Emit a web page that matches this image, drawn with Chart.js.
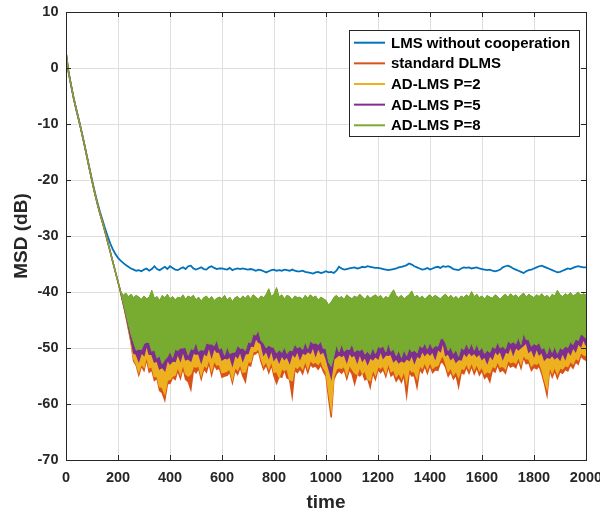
<!DOCTYPE html>
<html>
<head>
<meta charset="utf-8">
<script src="https://cdn.jsdelivr.net/npm/chart.js@4.4.1/dist/chart.umd.min.js"></script>
<style>
  html, body { margin: 0; padding: 0; background: #fff; }
  #wrap { width: 600px; height: 514px; }
</style>
</head>
<body>
<div id="wrap"><canvas id="msd"></canvas></div>
<script>
// ─── DATA (MSD in dB, sampled every 10 time steps) ──────────────
const time = Array.from({ length: 201 }, (_, i) => i * 10);

const lmsNoCoop = [
  2.7, -0.8, -3.2, -5.5, -7.5, -9.4, -11.4, -13.5, -15.7, -17.9,
  -20.0, -22.0, -23.9, -25.6, -27.1, -28.6, -30.0, -31.3, -32.4, -33.2,
  -33.9, -34.4, -34.8, -35.2, -35.5, -35.8, -36.0, -36.2, -36.1, -36.3,
  -36.0, -35.8, -36.2, -35.9, -35.4, -35.9, -36.1, -35.8, -35.5, -35.9,
  -35.4, -35.7, -36.0, -36.1, -35.8, -35.6, -35.9, -35.4, -35.3, -35.8,
  -36.0, -35.8, -35.6, -35.9, -36.0, -35.6, -35.4, -35.7, -35.9, -35.8,
  -35.8, -35.9, -36.0, -35.7, -36.1, -35.9, -35.8, -35.9, -35.8, -35.9,
  -36.0, -35.9, -36.0, -36.2, -36.0, -36.1, -36.3, -36.5, -36.3, -36.1,
  -36.0, -36.2, -36.1, -36.2, -36.0, -36.1, -36.2, -36.0, -36.2, -36.3,
  -36.3, -36.2, -36.4, -36.5, -36.6, -36.7, -36.5, -36.4, -36.6, -36.5,
  -36.3, -36.5, -36.4, -36.6, -36.2, -35.5, -35.8, -36.0, -35.9, -35.8,
  -35.7, -35.6, -35.8, -35.7, -35.5, -35.6, -35.4, -35.5, -35.6, -35.7,
  -35.7, -35.8, -35.9, -36.0, -36.1, -36.0, -35.9, -35.8, -35.6, -35.5,
  -35.4, -35.2, -34.9, -35.1, -35.4, -35.6, -35.8, -36.0, -35.9, -35.7,
  -36.0, -35.8, -35.6, -35.5, -35.7, -35.4, -35.5, -35.4, -35.6, -35.9,
  -36.0, -36.1, -35.8, -35.6, -35.7, -35.6, -35.8, -35.7, -35.6, -35.8,
  -35.9, -36.0, -36.1, -36.0, -36.2, -36.3, -36.2, -36.0, -35.6, -35.4,
  -35.3, -35.5, -35.8, -36.0, -36.2, -36.4, -36.6, -36.3, -36.1, -36.0,
  -35.8, -35.6, -35.4, -35.3, -35.5, -35.7, -35.9, -36.1, -36.3, -36.5,
  -36.4, -36.2, -36.0, -35.8, -35.9, -35.7, -35.5, -35.4, -35.5, -35.6,
  -35.6
];

const standardDlms = [
  2.7, -0.8, -3.2, -5.5, -7.5, -9.4, -11.4, -13.5, -15.7, -17.9,
  -20.1, -22.2, -24.1, -25.9, -27.5, -29.2, -31.0, -32.8, -34.6, -36.4,
  -38.2, -40.0, -42.1, -44.2, -46.6, -49.0, -52.3, -53.1, -54.8, -53.2,
  -54.0, -52.0, -54.3, -53.9, -55.8, -55.4, -57.6, -58.0, -59.3, -56.4,
  -56.3, -55.2, -55.6, -54.0, -55.4, -53.5, -55.6, -56.0, -57.4, -53.9,
  -54.4, -53.6, -55.5, -53.7, -54.3, -52.6, -54.8, -53.0, -53.8, -53.6,
  -55.2, -55.0, -54.9, -54.3, -56.2, -54.0, -54.7, -53.4, -55.0, -56.0,
  -53.0, -53.2, -51.2, -51.0, -50.5, -52.4, -53.8, -53.0, -54.4, -53.0,
  -55.0, -56.3, -55.0, -55.2, -53.9, -55.3, -55.6, -58.6, -53.9, -54.4,
  -53.7, -54.6, -53.0, -54.4, -52.9, -53.4, -53.2, -53.8, -53.0, -54.2,
  -55.0, -58.9, -62.4, -55.6, -54.6, -54.1, -54.5, -53.9, -55.5, -53.8,
  -54.6, -56.4, -54.6, -55.0, -54.4, -55.7, -55.4, -57.0, -54.4, -55.6,
  -53.8, -54.4, -53.8, -55.1, -53.3, -55.0, -54.6, -55.9, -55.2, -56.1,
  -54.8, -58.5, -54.3, -55.0, -54.9, -57.0, -53.8, -54.4, -53.2, -54.5,
  -53.1, -54.4, -53.9, -54.0, -52.6, -52.6, -53.4, -55.0, -54.2, -55.5,
  -54.8, -56.9, -54.3, -54.6, -53.4, -54.5, -53.2, -54.6, -53.5, -54.8,
  -54.0, -55.4, -54.9, -56.0, -53.9, -54.3, -53.0, -54.2, -53.9, -54.5,
  -52.8, -53.4, -53.1, -53.5, -52.2, -53.6, -51.6, -52.8, -52.6, -54.0,
  -53.4, -53.7, -53.2, -54.6, -56.3, -58.4, -53.9, -55.2, -54.0, -55.4,
  -54.2, -54.5, -53.8, -54.1, -53.0, -53.6, -52.5, -52.9, -51.4, -51.9,
  -52.2
];

const adLmsP2 = [
  2.7, -0.8, -3.2, -5.5, -7.5, -9.4, -11.4, -13.5, -15.7, -17.9,
  -20.1, -22.2, -24.1, -25.9, -27.5, -29.2, -31.0, -32.8, -34.6, -36.4,
  -38.2, -40.0, -42.0, -44.0, -46.4, -48.8, -51.9, -52.8, -54.2, -52.8,
  -53.4, -51.3, -53.5, -53.3, -55.1, -55.0, -56.9, -57.0, -58.1, -55.7,
  -55.6, -55.0, -54.8, -53.3, -54.6, -52.8, -54.6, -55.0, -54.6, -53.2,
  -53.4, -53.1, -54.8, -53.1, -53.4, -51.9, -53.9, -52.2, -53.0, -52.9,
  -54.4, -54.3, -54.1, -53.7, -55.5, -53.4, -53.9, -52.8, -54.3, -54.2,
  -52.4, -52.5, -50.6, -50.6, -50.0, -51.7, -53.1, -52.4, -53.6, -52.2,
  -54.3, -54.2, -55.2, -53.6, -54.0, -53.6, -55.6, -55.8, -53.2, -53.6,
  -53.0, -53.7, -52.2, -53.6, -52.1, -52.7, -52.5, -52.9, -52.2, -53.5,
  -54.2, -57.6, -60.8, -55.0, -53.7, -53.5, -53.6, -53.2, -54.7, -53.0,
  -53.7, -54.4, -54.7, -53.3, -54.6, -54.0, -55.5, -55.8, -53.7, -54.8,
  -53.2, -53.6, -53.1, -54.4, -52.5, -54.2, -53.9, -55.1, -54.4, -55.3,
  -54.0, -56.1, -53.6, -54.2, -54.2, -55.4, -53.1, -53.6, -52.5, -53.7,
  -52.4, -53.6, -53.2, -53.1, -51.9, -51.3, -52.7, -54.2, -53.5, -54.8,
  -54.1, -55.2, -53.6, -53.8, -52.7, -53.7, -52.5, -53.8, -52.8, -54.0,
  -53.3, -54.6, -54.2, -54.4, -53.2, -53.5, -52.3, -53.4, -53.2, -53.7,
  -52.1, -52.6, -52.4, -52.7, -51.5, -52.8, -51.2, -51.9, -51.9, -53.2,
  -52.7, -52.9, -52.5, -53.8, -55.6, -57.2, -53.2, -54.4, -53.3, -54.6,
  -53.5, -53.7, -53.1, -53.3, -52.3, -52.8, -51.8, -52.1, -50.7, -51.2,
  -51.4
];

const adLmsP5 = [
  2.7, -0.8, -3.2, -5.5, -7.5, -9.4, -11.4, -13.5, -15.7, -17.9,
  -20.1, -22.2, -24.1, -25.9, -27.5, -29.2, -31.0, -32.8, -34.6, -36.4,
  -38.2, -40.0, -42.0, -44.0, -46.2, -48.4, -50.9, -51.1, -52.3, -50.8,
  -51.3, -49.4, -51.1, -51.1, -52.5, -52.3, -53.7, -53.4, -54.0, -52.1,
  -52.8, -52.3, -52.4, -51.0, -52.2, -50.5, -52.1, -51.9, -52.3, -50.8,
  -51.1, -51.0, -52.5, -50.9, -51.3, -49.7, -51.5, -50.0, -50.7, -50.7,
  -52.1, -51.8, -51.9, -51.5, -53.0, -51.2, -51.7, -50.6, -52.2, -51.0,
  -51.0, -49.6, -49.7, -48.2, -48.9, -49.2, -51.2, -50.5, -51.7, -50.3,
  -52.1, -51.4, -52.5, -51.3, -52.0, -51.5, -52.6, -51.0, -51.5, -50.5,
  -51.9, -50.8, -51.1, -50.6, -50.9, -49.7, -51.3, -49.9, -51.0, -50.6,
  -51.8, -53.5, -55.2, -52.0, -51.6, -51.2, -51.5, -51.1, -52.4, -50.8,
  -51.5, -51.2, -52.5, -51.0, -52.3, -51.6, -52.8, -51.7, -52.1, -51.5,
  -51.9, -50.5, -51.8, -51.2, -51.3, -51.1, -52.4, -51.9, -52.6, -52.2,
  -52.5, -51.9, -52.2, -51.2, -52.6, -51.4, -51.7, -50.5, -51.3, -50.7,
  -51.2, -50.6, -51.8, -50.2, -50.6, -48.8, -51.3, -51.0, -52.0, -51.5,
  -52.5, -52.0, -52.1, -50.8, -51.4, -50.7, -51.3, -50.9, -51.5, -51.0,
  -52.0, -51.5, -52.6, -51.3, -51.9, -50.6, -51.1, -50.5, -51.9, -50.7,
  -50.9, -49.7, -51.1, -49.8, -50.3, -49.9, -49.5, -49.0, -50.7, -50.2,
  -51.4, -50.0, -51.2, -50.7, -52.1, -51.6, -51.8, -51.3, -51.9, -51.5,
  -52.1, -50.8, -51.9, -50.4, -51.1, -49.9, -50.6, -49.2, -49.7, -48.3,
  -49.5
];

// P=8 oscillates fast: upper and lower edge of the band
const adLmsP8Upper = [
  2.7, -0.8, -3.2, -5.5, -7.5, -9.4, -11.4, -13.5, -15.7, -17.9,
  -20.1, -22.2, -24.1, -25.9, -27.5, -29.2, -31.0, -32.8, -34.6, -36.4,
  -38.2, -39.8, -40.6, -40.2, -40.8, -40.4, -41.0, -40.6, -40.9, -41.3,
  -40.7, -41.2, -40.9, -39.7, -41.1, -40.8, -41.5, -40.6, -41.0, -40.4,
  -41.2, -40.8, -41.4, -40.9, -41.1, -40.5, -41.3, -40.7, -41.0, -40.6,
  -41.4, -40.9, -41.6, -41.0, -40.7, -41.3, -40.8, -41.5, -41.1, -40.9,
  -41.2, -40.6, -41.4, -40.9, -41.7, -41.0, -40.8, -41.3, -40.7, -41.1,
  -40.6, -41.2, -40.5, -40.9, -41.3, -40.7, -41.0, -40.4, -39.4, -40.8,
  -40.3, -39.2, -40.9, -40.5, -41.2, -40.6, -40.8, -41.4, -40.7, -41.0,
  -40.9, -41.3, -40.6, -41.1, -40.5, -41.0, -40.7, -41.4, -40.9, -41.2,
  -41.5, -42.3, -41.8, -41.0, -40.6, -41.1, -40.8, -41.3, -40.5, -40.9,
  -41.2, -40.7, -41.0, -40.4, -40.9, -41.3, -40.6, -41.1, -40.8, -40.5,
  -41.0, -40.6, -41.3, -40.8, -41.1, -40.3, -39.6, -40.7, -41.0, -40.6,
  -41.2, -40.8, -40.5, -39.8, -40.9, -40.6, -41.1, -40.7, -41.3, -40.8,
  -40.5, -41.0, -40.6, -40.9, -41.2, -40.7, -40.4, -41.0, -40.6, -41.1,
  -40.8, -41.3, -40.7, -41.0, -40.5, -40.9, -39.9, -40.8, -40.4, -41.0,
  -40.7, -41.2, -40.6, -40.9, -41.1, -40.5, -40.8, -41.3, -40.7, -40.4,
  -40.9, -40.3, -40.8, -40.5, -41.0, -40.6, -40.2, -40.9, -40.4, -40.7,
  -41.0, -40.5, -40.8, -40.3, -40.9, -40.6, -41.1, -40.4, -40.7, -39.7,
  -40.5, -40.8, -40.3, -40.6, -40.1, -40.7, -40.4, -40.0, -40.6, -40.3,
  -40.5
];

const adLmsP8Lower = [
  2.7, -0.8, -3.2, -5.5, -7.5, -9.4, -11.4, -13.5, -15.7, -17.9,
  -20.1, -22.2, -24.1, -25.9, -27.5, -29.2, -31.0, -32.8, -34.6, -36.4,
  -38.2, -40.0, -41.9, -43.8, -45.8, -47.6, -49.0, -50.4, -50.2, -50.3,
  -49.2, -49.0, -49.0, -50.6, -50.3, -51.8, -51.4, -52.8, -52.1, -51.6,
  -50.6, -51.7, -50.2, -50.5, -50.0, -50.0, -49.9, -51.3, -50.1, -50.3,
  -48.9, -50.6, -50.3, -50.4, -49.1, -49.3, -49.3, -49.6, -48.5, -50.2,
  -49.9, -51.3, -49.7, -51.0, -50.8, -50.7, -49.5, -50.1, -50.0, -50.5,
  -48.9, -49.1, -47.5, -47.7, -46.8, -48.7, -49.1, -50.0, -49.5, -49.8,
  -49.9, -50.9, -50.3, -50.8, -49.8, -51.0, -50.4, -50.5, -49.3, -50.0,
  -49.7, -50.3, -48.9, -50.1, -48.7, -49.2, -49.1, -49.4, -48.8, -50.1,
  -50.1, -52.5, -53.3, -51.5, -49.4, -50.7, -49.3, -50.6, -50.2, -50.3,
  -49.3, -50.7, -50.3, -50.5, -50.1, -51.1, -50.6, -51.2, -49.9, -51.0,
  -49.7, -50.0, -49.6, -50.7, -49.1, -50.6, -50.2, -51.4, -50.4, -51.7,
  -50.3, -51.4, -50.0, -50.7, -50.4, -50.9, -49.5, -50.0, -49.1, -50.2,
  -49.0, -50.1, -49.6, -49.7, -48.4, -48.3, -49.1, -50.5, -49.8, -51.0,
  -50.3, -51.5, -49.9, -50.3, -49.2, -50.2, -49.1, -50.4, -49.3, -50.5,
  -49.8, -51.0, -50.4, -50.8, -49.7, -50.1, -48.9, -50.0, -49.7, -50.2,
  -48.7, -49.2, -48.9, -49.3, -48.1, -49.4, -47.3, -48.5, -48.5, -49.7,
  -49.2, -49.5, -49.0, -50.2, -49.9, -51.1, -49.6, -50.8, -49.7, -51.0,
  -49.9, -50.3, -49.7, -49.9, -48.9, -49.4, -48.4, -48.7, -47.5, -47.8,
  -48.3
];

const xTicks = [0, 200, 400, 600, 800, 1000, 1200, 1400, 1600, 1800, 2000];
const yTicks = [-70, -60, -50, -40, -30, -20, -10, 0, 10];

// MATLAB default line colours
const colors = {
  blue: '#0072BD',
  orange: '#D95319',
  yellow: '#EDB120',
  purple: '#7E2F8E',
  green: '#77AC30',
};

const axisColor = '#262626';
const fontFamily = "'Liberation Sans', Arial, Helvetica, sans-serif";
const tickFont = { family: fontFamily, size: 14.5, weight: 'bold' };
const titleFont = { family: fontFamily, size: 19, weight: 'bold' };

const toPoints = (values) => values.map((v, i) => ({ x: time[i], y: v }));

// the fast-oscillating curves show up as bands: fill each one up to the P=8 upper edge
const BAND_TOP = 4;

function lineSet(label, values, color, order, extra) {
  return {
    label,
    data: toPoints(values),
    borderColor: color,
    backgroundColor: color,
    borderWidth: 1.5,
    pointRadius: 0,
    tension: 0,
    fill: false,
    order,
    ...extra,
  };
}

// ─── AXES BOX + INWARD TICKS (MATLAB look) ──────────────────────
const boxPlugin = {
  id: 'matlabBox',
  afterDatasetsDraw(chart) {
    const { ctx, chartArea: a, scales } = chart;
    ctx.save();
    ctx.strokeStyle = axisColor;
    ctx.lineWidth = 1;
    ctx.strokeRect(Math.round(a.left) + 0.5, Math.round(a.top) + 0.5, Math.round(a.right - a.left), Math.round(a.bottom - a.top));
    ctx.beginPath();
    xTicks.forEach((t) => {
      const x = Math.round(scales.x.getPixelForValue(t)) + 0.5;
      ctx.moveTo(x, a.bottom); ctx.lineTo(x, a.bottom - 5);
      ctx.moveTo(x, a.top); ctx.lineTo(x, a.top + 5);
    });
    yTicks.forEach((t) => {
      const y = Math.round(scales.y.getPixelForValue(t)) + 0.5;
      ctx.moveTo(a.left, y); ctx.lineTo(a.left + 5, y);
      ctx.moveTo(a.right, y); ctx.lineTo(a.right - 5, y);
    });
    ctx.stroke();
    ctx.restore();
  },
};

// ─── LEGEND BOX (upper right, inside axes) ──────────────────────
const legendPlugin = {
  id: 'insideLegend',
  afterDraw(chart) {
    const { ctx } = chart;
    const items = chart.data.datasets.filter((d) => !d.noLegend);
    const box = { x: 349.5, y: 30.5, w: 230, h: 106 };
    ctx.save();
    ctx.fillStyle = '#fff';
    ctx.fillRect(box.x, box.y, box.w, box.h);
    ctx.strokeStyle = axisColor;
    ctx.lineWidth = 1;
    ctx.strokeRect(box.x, box.y, box.w, box.h);
    ctx.font = `bold 15px ${fontFamily}`;
    ctx.textBaseline = 'middle';
    ctx.textAlign = 'left';
    items.forEach((d, i) => {
      const y = 42.7 + i * 20.65;
      ctx.strokeStyle = d.borderColor;
      ctx.lineWidth = 2;
      ctx.beginPath();
      ctx.moveTo(354, y);
      ctx.lineTo(385, y);
      ctx.stroke();
      ctx.fillStyle = '#000';
      ctx.fillText(d.label, 391, y + 1);
    });
    ctx.restore();
  },
};

new Chart(document.getElementById('msd'), {
  type: 'line',
  data: {
    datasets: [
      lineSet('LMS without cooperation', lmsNoCoop, colors.blue, 4, { borderWidth: 1.8 }),
      lineSet('standard DLMS', standardDlms, colors.orange, 3, { fill: BAND_TOP }),
      lineSet('AD-LMS P=2', adLmsP2, colors.yellow, 2, { fill: BAND_TOP }),
      lineSet('AD-LMS P=5', adLmsP5, colors.purple, 1, { fill: BAND_TOP }),
      lineSet('AD-LMS P=8', adLmsP8Upper, colors.green, 0, { fill: '+1', borderWidth: 1 }),
      lineSet('AD-LMS P=8 lower', adLmsP8Lower, colors.green, 0, { borderWidth: 1, noLegend: true }),
    ],
  },
  options: {
    responsive: true,
    maintainAspectRatio: false,
    animation: false,
    devicePixelRatio: 1,
    layout: { padding: { top: 12, right: 14, left: 0, bottom: 0 } },
    plugins: { legend: { display: false }, tooltip: { enabled: false } },
    scales: {
      x: {
        type: 'linear',
        min: 0,
        max: 2000,
        afterFit: (s) => { s.height = 54; s.paddingLeft = 0; s.paddingRight = 0; },
        afterBuildTicks: (s) => { s.ticks = xTicks.map((v) => ({ value: v })); },
        grid: { color: '#dfdfdf', drawTicks: false },
        border: { display: false },
        ticks: { font: tickFont, color: axisColor, padding: 9, maxRotation: 0, callback: (v) => String(v) },
        title: { display: true, text: 'time', font: titleFont, color: axisColor, padding: { top: 0, bottom: 0 } },
      },
      y: {
        min: -70,
        max: 10,
        afterFit: (s) => { s.width = 66; s.paddingTop = 0; s.paddingBottom = 0; },
        afterBuildTicks: (s) => { s.ticks = yTicks.map((v) => ({ value: v })); },
        grid: { color: '#dfdfdf', drawTicks: false },
        border: { display: false },
        ticks: { font: tickFont, color: axisColor, padding: 7.5, callback: (v) => String(v) },
        title: { display: true, text: 'MSD (dB)', font: titleFont, color: axisColor, padding: { top: 10.6, bottom: 0 } },
      },
    },
  },
  plugins: [boxPlugin, legendPlugin],
});
</script>
</body>
</html>
